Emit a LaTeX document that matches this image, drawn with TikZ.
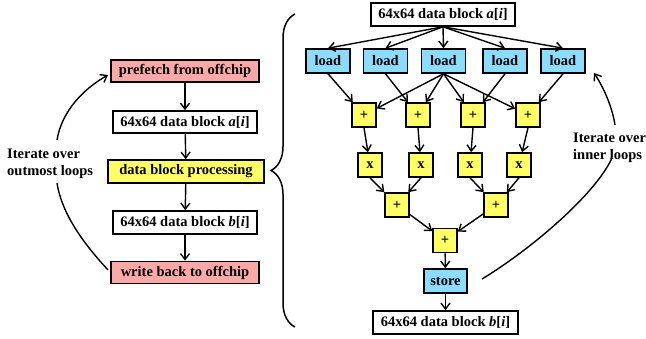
\documentclass[tikz,border=0pt]{standalone}
\usepackage{fontspec}
\setmainfont{Liberation Serif}
\usetikzlibrary{arrows.meta,decorations.pathreplacing}
\definecolor{pinkc}{HTML}{FFA8A8}
\definecolor{bluec}{HTML}{8CDCFF}
\definecolor{yelc}{HTML}{FFFF66}
\begin{document}
\begin{tikzpicture}[x=1pt,y=-1pt,
  font=\fontsize{14.5}{17}\selectfont\bfseries,
  box/.style={draw,line width=1.6pt,inner sep=0pt,minimum height=22pt,fill=white},
  loadbox/.style={box,fill=bluec,minimum width=44pt,minimum height=24pt},
  opbox/.style={box,fill=yelc,minimum width=24pt,minimum height=24pt},
  arr/.style={line width=1.4pt,-{Straight Barb[length=6pt,width=9pt]}},
  curve/.style={line width=1.4pt},
  sidetext/.style={align=left,anchor=west,inner sep=0pt}
]
\useasboundingbox (0,0) rectangle (646,339);
% left column
\node[box,fill=pinkc,minimum width=148pt] (pf) at (185,71) {prefetch from offchip};
\node[box,minimum width=144pt] (la) at (185,122) {64x64 data block \textit{a}[\textit{i}]};
\node[box,fill=yelc,minimum width=156pt,minimum height=23pt] (proc) at (186,171.5) {data block processing};
\node[box,minimum width=144pt,minimum height=23pt] (lb) at (185,222.5) {64x64 data block \textit{b}[\textit{i}]};
\node[box,fill=pinkc,minimum width=148pt] (wb) at (185,272.5) {write back to offchip};
\draw[arr] (pf) -- (la);
\draw[arr] (la) -- (proc);
\draw[arr] (proc) -- (lb);
\draw[arr] (lb) -- (wb);
% left loop
\node[sidetext] (outer) at (7,164) {Iterate over\\outmost loops};
\coordinate (lo1) at (108,270);
\coordinate (lo2) at (57,183);
\coordinate (lu1) at (57,140);
\coordinate (lu2) at (108,75);
\draw[curve] (lo1) .. controls (85,245) and (62,215) .. (lo2);
\draw[arr] (lu1) .. controls (62,110) and (85,88) .. (lu2);
% brace
\coordinate (br1) at (295,327);
\coordinate (br2) at (295,14);
\draw[line width=1.5pt,decorate,decoration={brace,amplitude=24pt}] (br1) -- (br2);
% right graph
\node[box,minimum width=144pt,minimum height=23pt] (ta) at (443,14.5) {64x64 data block \textit{a}[\textit{i}]};
\node[loadbox] (l1) at (328,61) {load};
\node[loadbox] (l2) at (385.5,61) {load};
\node[loadbox] (l3) at (443.5,61) {load};
\node[loadbox] (l4) at (505,61) {load};
\node[loadbox] (l5) at (563,61) {load};
\node[opbox] (p1) at (364,115) {+};
\node[opbox] (p2) at (418,115) {+};
\node[opbox] (p3) at (473,115) {+};
\node[opbox] (p4) at (528,115) {+};
\node[opbox] (x1) at (370,165) {x};
\node[opbox] (x2) at (421,165) {x};
\node[opbox] (x3) at (470,165) {x};
\node[opbox] (x4) at (519,165) {x};
\node[opbox] (q1) at (397,205) {+};
\node[opbox] (q2) at (496,205) {+};
\node[opbox] (r) at (445,240.5) {+};
\node[loadbox,minimum width=43pt] (st) at (445.5,281) {store};
\node[box,minimum width=145pt,minimum height=23pt] (tb) at (445.5,322.5) {64x64 data block \textit{b}[\textit{i}]};
\foreach \n in {l1,l2,l3,l4,l5} \draw[arr] (ta.south) -- (\n.north);
\draw[arr] (l1.south) -- (p1);
\draw[arr] (l2.south) -- (p2);
\draw[arr] (l3.south) -- (p1);
\draw[arr] (l3.south) -- (p2);
\draw[arr] (l3.south) -- (p3);
\draw[arr] (l3.south) -- (p4);
\draw[arr] (l4.south) -- (p3);
\draw[arr] (l5.south) -- (p4);
\draw[arr] (p1.south) -- (x1);
\draw[arr] (p2.south) -- (x2);
\draw[arr] (p3.south) -- (x3);
\draw[arr] (p4.south) -- (x4);
\draw[arr] (x1.south) -- (q1);
\draw[arr] (x2.south) -- (q1);
\draw[arr] (x3.south) -- (q2);
\draw[arr] (x4.south) -- (q2);
\draw[arr] (q1) -- (r);
\draw[arr] (q2) -- (r);
\draw[arr] (r) -- (st);
\draw[arr] (st) -- (tb);
% right loop
\node[sidetext] (inner) at (573,148) {Iterate over\\inner loops};
\coordinate (ro1) at (482,279);
\coordinate (ro2) at (612,158);
\coordinate (ru1) at (615,125);
\coordinate (ru2) at (594,73);
\draw[curve] (ro1) .. controls (530,250) and (595,195) .. (ro2);
\draw[arr] (ru1) .. controls (612,105) and (602,85) .. (ru2);
\end{tikzpicture}
\end{document}
